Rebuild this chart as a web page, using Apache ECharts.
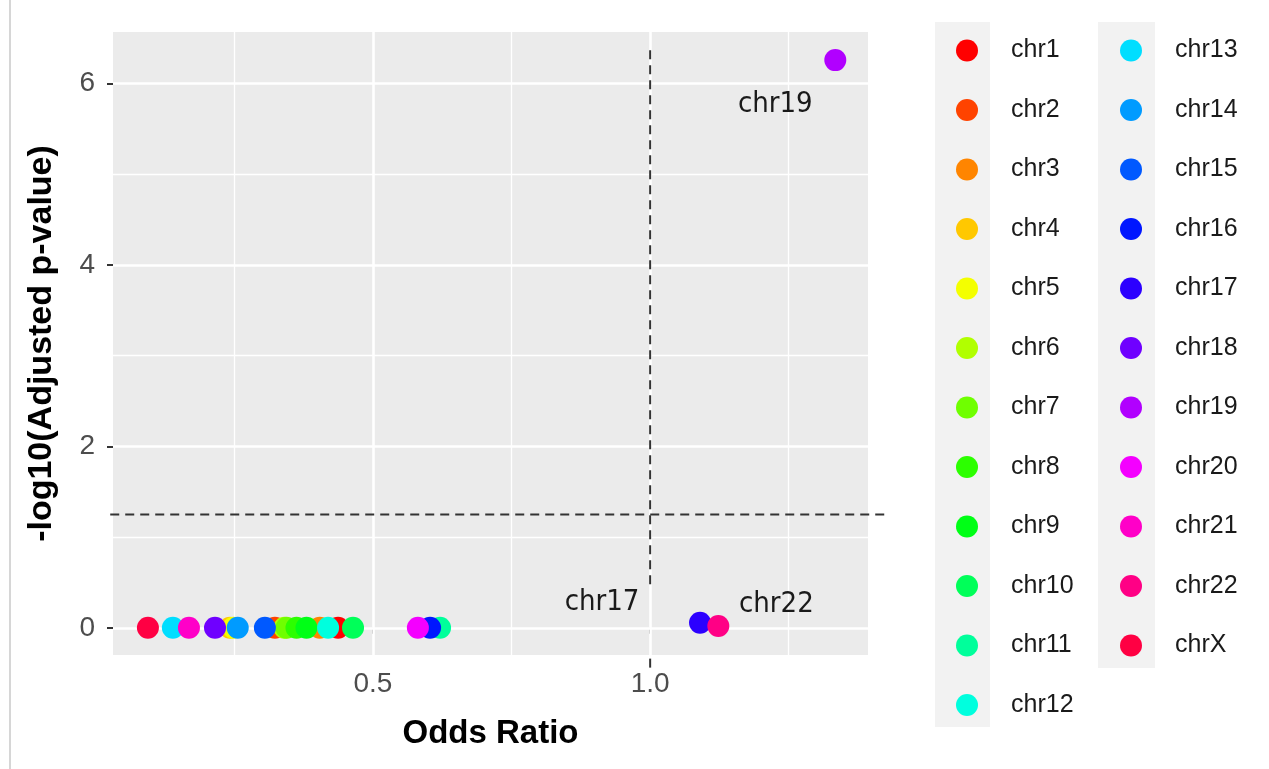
<!DOCTYPE html>
<html><head><meta charset="utf-8">
<script src="https://cdn.jsdelivr.net/npm/echarts@6/dist/echarts.min.js"></script>
<style>html,body{margin:0;padding:0;background:#fff}#c{width:1269px;height:769px}</style>
</head><body><div id="c"></div>
<script>
// ---- data ----
const chromosomes = ['chr1','chr2','chr3','chr4','chr5','chr6','chr7','chr8','chr9','chr10','chr11','chr12',
  'chr13','chr14','chr15','chr16','chr17','chr18','chr19','chr20','chr21','chr22','chrX'];
const oddsRatio = [0.437,0.323,0.404,0.242,0.248,0.340,0.344,0.362,0.380,0.464,0.621,0.419,
  0.139,0.256,0.305,0.603,1.090,0.215,1.334,0.581,0.168,1.123,0.094];
const negLog10AdjP = [0,0,0,0,0,0,0,0,0,0,0,0,
  0,0,0,0,0.055,0,6.26,0,0,0.02,0];
const colors = ['#FF0000','#FF4300','#FF8500','#FFC800','#F4FF00','#B1FF00','#6FFF00','#2CFF00','#00FF16','#00FF59','#00FF9B','#00FFDE',
  '#00DEFF','#009BFF','#0059FF','#0016FF','#2C00FF','#6F00FF','#B100FF','#F400FF','#FF00C8','#FF0085','#FF0043'];
const labeledChromosomes = ['chr19','chr17','chr22'];
const xMajor = [0.5, 1.0];
const xMinor = [0.25, 0.75, 1.25];
const yMajor = [0, 2, 4, 6];
const yMinor = [1, 3, 5];
const pThreshold = 1.25;      // dashed horizontal
const orThreshold = 1.0;      // dashed vertical
const xRange = [0.031, 1.393];
const yRange = [-0.30, 6.57];
// dashed reference segments: [x1, y1, x2, y2]
const dashedSegments = [
  [0.026, pThreshold, 1.424, pThreshold],
  [orThreshold, 6.37, orThreshold, 0.47],
  [orThreshold, -0.34, orThreshold, -0.44]
];

// ---- chart ----
const chart = echarts.init(document.getElementById('c'));
const labelOffsets = { chr19: [-60, 44], chr17: [-98, -20], chr22: [58, -22] };
const FONT = "'Liberation Sans',Arial,sans-serif";

const gridLines = [];
xMinor.forEach(v => gridLines.push({ xAxis: v, lineStyle: { color: '#fff', width: 1.3, type: 'solid' } }));
yMinor.forEach(v => gridLines.push({ yAxis: v, lineStyle: { color: '#fff', width: 1.3, type: 'solid' } }));
xMajor.forEach(v => gridLines.push({ xAxis: v, lineStyle: { color: '#fff', width: 2.6, type: 'solid' } }));
yMajor.forEach(v => gridLines.push({ yAxis: v, lineStyle: { color: '#fff', width: 2.6, type: 'solid' } }));

const series = [{
  type: 'scatter', data: [], silent: true, z: 1,
  markLine: { silent: true, z: 1, symbol: 'none', label: { show: false }, animation: false, data: gridLines }
}];

series.push({
  type: 'custom', clip: false, silent: true, z: 6,
  data: dashedSegments,
  encode: { x: [0, 2], y: [1, 3] },
  renderItem: (params, api) => {
    const p1 = api.coord([api.value(0), api.value(1)]);
    const p2 = api.coord([api.value(2), api.value(3)]);
    return { type: 'line', shape: { x1: p1[0], y1: p1[1], x2: p2[0], y2: p2[1] },
      style: { stroke: '#333', lineWidth: 2, lineDash: [9, 6] } };
  }
});

chromosomes.forEach((c, i) => {
  const lab = labeledChromosomes.includes(c);
  series.push({
    name: c, type: 'scatter', z: 10,
    symbolSize: 22,
    itemStyle: { color: colors[i], opacity: 1 },
    data: [[oddsRatio[i], negLog10AdjP[i]]],
    label: lab ? {
      show: true, formatter: c, position: 'inside', offset: labelOffsets[c],
      color: '#1a1a1a', fontSize: 29,
      fontFamily: "'Liberation Sans Narrow','DejaVu Sans Condensed',sans-serif"
    } : { show: false }
  });
});

const legendCommon = {
  orient: 'vertical', icon: 'circle', itemWidth: 22, itemHeight: 22, itemGap: 34.5,
  selectedMode: false, top: 33,
  textStyle: { color: '#1a1a1a', fontSize: 25, fontFamily: FONT,
    lineHeight: 25, padding: [0, 0, 0, 28] }
};

chart.setOption({
  animation: false,
  backgroundColor: '#fff',
  graphic: [
    { type: 'line', shape: { x1: 10, y1: 0, x2: 10, y2: 769 }, style: { stroke: '#d6d6d6', lineWidth: 2 } },
    { type: 'rect', shape: { x: 935, y: 22, width: 55, height: 705 }, style: { fill: '#F2F2F2' }, z: -1 },
    { type: 'rect', shape: { x: 1098, y: 22, width: 57, height: 646 }, style: { fill: '#F2F2F2' }, z: -1 }
  ],
  legend: [
    Object.assign({}, legendCommon, { left: 951, data: chromosomes.slice(0, 12) }),
    Object.assign({}, legendCommon, { left: 1115, data: chromosomes.slice(12) })
  ],
  grid: { left: 113, top: 32, width: 755, height: 623, show: true, backgroundColor: '#EBEBEB', borderWidth: 0 },
  xAxis: {
    type: 'value', min: xRange[0], max: xRange[1],
    name: 'Odds Ratio', nameLocation: 'middle', nameGap: 62,
    nameTextStyle: { fontSize: 33, fontWeight: 'bold', color: '#000', fontFamily: FONT },
    axisLine: { show: false },
    axisTick: { show: true, customValues: xMajor, length: 6, lineStyle: { color: '#333', width: 2 } },
    axisLabel: { customValues: xMajor, color: '#4D4D4D', fontSize: 28, margin: 15,
      fontFamily: FONT, formatter: v => v.toFixed(1) },
    splitLine: { show: false }
  },
  yAxis: {
    type: 'value', min: yRange[0], max: yRange[1],
    name: '-log10(Adjusted p-value)', nameLocation: 'middle', nameGap: 54, nameRotate: 90,
    nameTextStyle: { fontSize: 34, fontWeight: 'bold', color: '#000', fontFamily: FONT },
    axisLine: { show: false },
    axisTick: { show: true, customValues: yMajor, length: 6, lineStyle: { color: '#333', width: 2 } },
    axisLabel: { customValues: yMajor, color: '#4D4D4D', fontSize: 28, margin: 18,
      fontFamily: FONT },
    splitLine: { show: false }
  },
  series: series
});
</script></body></html>
